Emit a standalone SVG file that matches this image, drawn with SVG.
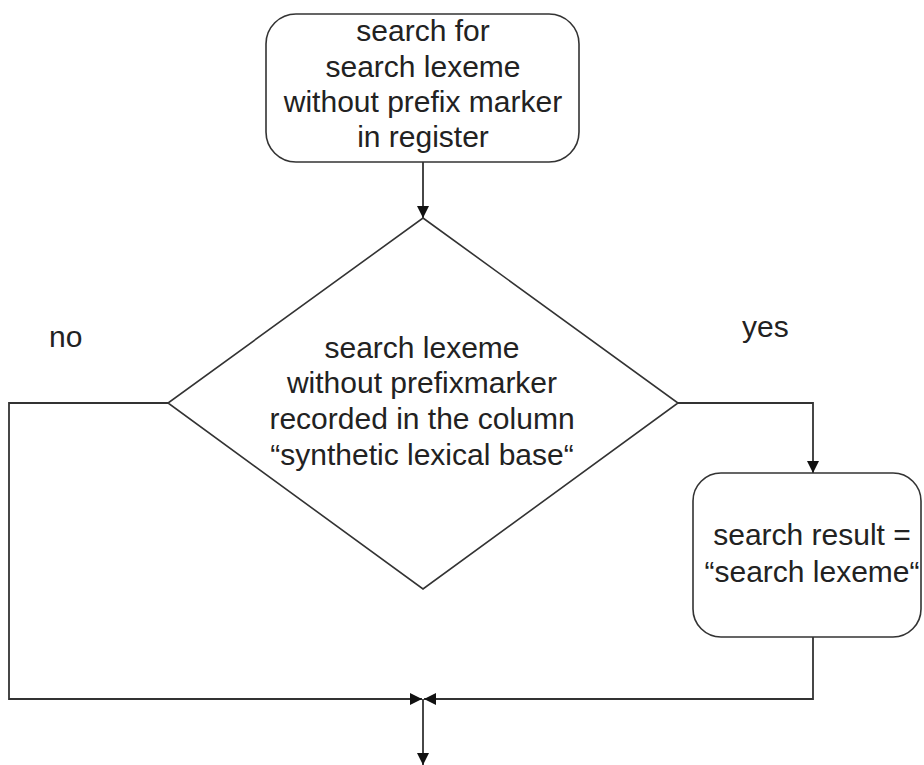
<svg xmlns="http://www.w3.org/2000/svg" width="924" height="765" viewBox="0 0 924 765">
  <defs>
    <style>
      .shape { fill: #ffffff; stroke: #333333; stroke-width: 1.6; }
      .line { fill: none; stroke: #333333; stroke-width: 1.8; }
      .label { font-family: "Liberation Sans", Arial, sans-serif; font-size: 30px; fill: #222222; text-anchor: middle; }
      .side { font-family: "Liberation Sans", Arial, sans-serif; font-size: 30px; fill: #222222; }
    </style>
    <marker id="arrow" viewBox="0 0 12 12" refX="12" refY="6" markerWidth="12" markerHeight="12" markerUnits="userSpaceOnUse" orient="auto">
      <path d="M0,0 L12,6 L0,12 Z" fill="#111111"/>
    </marker>
  </defs>

  <rect width="924" height="765" fill="#ffffff"/>

  <!-- connectors -->
  <g id="connectors">
    <path class="line" d="M423,162 V218" marker-end="url(#arrow)"/>
    <path class="line" d="M678,403 H813 V473" marker-end="url(#arrow)"/>
    <path class="line" d="M168,403 H9 V699 H422" marker-end="url(#arrow)"/>
    <path class="line" d="M813,637 V699 H424" marker-end="url(#arrow)"/>
    <path class="line" d="M423,699 V765" marker-end="url(#arrow)"/>
  </g>

  <!-- start: lookup in register -->
  <g id="search-register">
    <rect class="shape" x="266" y="14" width="313" height="148" rx="30" ry="30"/>
    <text class="label" x="423" y="41">search for</text>
    <text class="label" x="423" y="77">search lexeme</text>
    <text class="label" x="423" y="112">without prefix marker</text>
    <text class="label" x="423" y="147">in register</text>
  </g>

  <!-- decision -->
  <g id="decision">
    <polygon class="shape" points="423,218 678,403 423,589 168,403"/>
    <text class="label" x="422" y="358">search lexeme</text>
    <text class="label" x="422" y="393">without prefixmarker</text>
    <text class="label" x="422" y="429">recorded in the column</text>
    <text class="label" x="422" y="465">“synthetic lexical base“</text>
  </g>

  <!-- branch labels -->
  <g id="label-no">
    <text class="side" x="49" y="347">no</text>
  </g>
  <g id="label-yes">
    <text class="side" x="742" y="337">yes</text>
  </g>

  <!-- result -->
  <g id="search-result">
    <rect class="shape" x="693" y="473" width="228" height="164" rx="28" ry="28"/>
    <text class="label" x="812" y="545">search result =</text>
    <text class="label" x="812" y="582">“search lexeme“</text>
  </g>
</svg>
